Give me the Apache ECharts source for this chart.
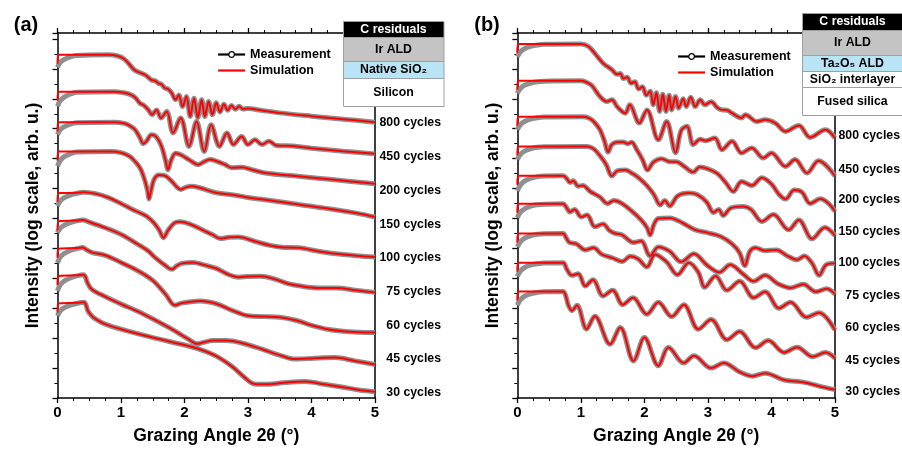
<!DOCTYPE html>
<html><head><meta charset="utf-8">
<script src="https://cdn.jsdelivr.net/npm/echarts@6.0.0/dist/echarts.min.js"></script>
<style>html,body{margin:0;padding:0;background:#fff}#c{width:902px;height:450px}</style>
</head><body><div id="c"></div><script>
// ---- data: x = grazing angle 2θ (deg), y = log intensity (decades, offset per curve) ----
const xTicks = [0,1,2,3,4,5];
const cyclesA = ['800 cycles','450 cycles','200 cycles','150 cycles','100 cycles','75 cycles','60 cycles','45 cycles','30 cycles'];
const cyclesB = ['800 cycles','450 cycles','200 cycles','150 cycles','100 cycles','75 cycles','60 cycles','45 cycles','30 cycles'];
const layersA = ['C residuals','Ir ALD','Native SiO\u2082','Silicon'];
const layersB = ['C residuals','Ir ALD','Ta\u2082O\u2085 ALD','SiO\u2082 interlayer','Fused silica'];

const simA800 = [[0,11.17],[0.015,11.47],[0.8,11.47],[0.95,11.43],[1.05,11.33],[1.12,11.18],[1.22,10.95],[1.38,10.8],[1.48,10.63],[1.54,10.6],[1.59,10.52],[1.64,10.48],[1.69,10.36],[1.74,10.33],[1.80,10.19],[1.86,9.97],[1.91,10.13],[1.97,9.74],[2.03,10.08],[2.09,9.41],[2.15,10.02],[2.21,9.37],[2.27,9.97],[2.32,9.41],[2.38,9.91],[2.44,9.47],[2.50,9.87],[2.56,9.56],[2.62,9.82],[2.68,9.62],[2.74,9.78],[2.80,9.65],[2.86,9.75],[2.92,9.66],[3.0,9.68],[3.2,9.62],[3.5,9.53],[4.0,9.42],[4.5,9.32],[5.0,9.22]];
const simA450 = [[0,9.94],[0.015,10.24],[0.9,10.24],[1.05,10.2],[1.14,10.15],[1.22,10.05],[1.30,9.85],[1.36,9.78],[1.43,9.63],[1.49,9.47],[1.56,9.63],[1.63,9.36],[1.72,9.58],[1.82,8.86],[1.94,9.36],[2.07,8.41],[2.19,9.24],[2.31,8.24],[2.42,9.13],[2.55,8.41],[2.67,8.86],[2.77,8.47],[2.90,8.74],[3.0,8.47],[3.11,8.63],[3.22,8.47],[3.33,8.58],[3.45,8.44],[3.7,8.42],[4.0,8.35],[4.5,8.25],[5.0,8.16]];
const simA200 = [[0,8.92],[0.015,9.22],[0.9,9.22],[1.05,9.18],[1.12,9.12],[1.22,8.97],[1.30,8.69],[1.35,8.5],[1.40,8.58],[1.48,8.8],[1.56,8.72],[1.64,8.4],[1.70,7.95],[1.74,7.63],[1.79,7.95],[1.86,8.18],[1.95,8.12],[2.08,7.95],[2.22,7.8],[2.31,7.9],[2.40,7.97],[2.5,7.92],[2.64,7.8],[2.74,7.7],[2.9,7.71],[3.06,7.63],[3.27,7.52],[3.79,7.41],[4.32,7.3],[5.0,7.16]];
const simA150 = [[0,7.94],[0.015,8.24],[0.85,8.24],[1.0,8.2],[1.1,8.12],[1.17,8.02],[1.30,7.69],[1.38,7.24],[1.42,6.9],[1.44,6.65],[1.47,6.9],[1.52,7.3],[1.6,7.45],[1.68,7.44],[1.8,7.24],[1.88,7.05],[1.94,6.97],[2.02,7.04],[2.11,7.08],[2.25,7.02],[2.5,6.86],[2.8,6.78],[3.0,6.7],[3.3,6.62],[3.8,6.47],[4.3,6.32],[4.7,6.18],[5.0,6.05]];
const simA100 = [[0,6.55],[0.015,6.85],[0.3,6.86],[0.41,6.88],[0.6,6.83],[0.8,6.7],[1.0,6.5],[1.2,6.28],[1.4,6.08],[1.52,5.85],[1.6,5.62],[1.67,5.36],[1.74,5.6],[1.84,5.85],[1.93,5.89],[2.1,5.8],[2.3,5.6],[2.45,5.45],[2.56,5.33],[2.7,5.37],[2.85,5.38],[3.1,5.24],[3.35,5.1],[3.53,5.04],[3.8,5.02],[4.15,4.89],[4.5,4.8],[5.0,4.71]];
const simA75 = [[0,5.61],[0.015,5.91],[0.3,5.93],[0.4,5.95],[0.49,5.89],[0.75,5.69],[1.01,5.46],[1.27,5.13],[1.43,4.91],[1.54,4.69],[1.69,4.44],[1.80,4.3],[1.88,4.42],[1.96,4.5],[2.14,4.53],[2.3,4.45],[2.5,4.33],[2.7,4.12],[2.85,4.04],[3.0,4.06],[3.2,4.07],[3.43,3.97],[3.63,3.82],[3.8,3.75],[4.1,3.68],[4.4,3.68],[4.7,3.6],[5.0,3.53]];
const simA60 = [[0,4.69],[0.015,4.99],[0.3,5.01],[0.4,5.03],[0.46,4.95],[0.55,4.86],[0.75,4.77],[1.0,4.53],[1.25,4.27],[1.5,3.93],[1.7,3.47],[1.85,3.1],[1.95,3.17],[2.1,3.22],[2.25,3.24],[2.5,3.15],[2.75,2.93],[3.0,2.75],[3.25,2.72],[3.5,2.7],[3.75,2.6],[4.0,2.43],[4.25,2.3],[4.5,2.23],[4.75,2.2],[5.0,2.19]];
const simA45 = [[0,3.78],[0.015,4.08],[0.3,4.1],[0.41,4.12],[0.44,4.05],[0.47,3.86],[0.54,3.63],[0.75,3.39],[1.01,3.13],[1.27,2.89],[1.54,2.6],[1.80,2.3],[2.06,1.97],[2.2,1.81],[2.3,1.86],[2.45,1.92],[2.65,1.92],[2.9,1.84],[3.22,1.63],[3.53,1.41],[3.74,1.3],[4.05,1.33],[4.37,1.35],[4.68,1.24],[5.0,1.12]];
const simA30 = [[0,2.86],[0.015,3.16],[0.3,3.18],[0.42,3.2],[0.45,3.1],[0.48,2.91],[0.55,2.72],[0.61,2.63],[0.75,2.47],[1.0,2.3],[1.5,2.02],[2.0,1.77],[2.25,1.62],[2.5,1.4],[2.75,1.05],[2.95,0.68],[3.1,0.47],[3.3,0.46],[3.6,0.52],[3.9,0.55],[4.2,0.46],[4.5,0.36],[4.75,0.27],[5.0,0.21]];

const measLowA800 = [[0,11.05],[0.04,11.21],[0.1,11.31],[0.2,11.4],[0.3,11.45]];
const measLowA450 = [[0,9.75],[0.04,9.93],[0.1,10.05],[0.2,10.16],[0.3,10.22]];
const measLowA200 = [[0,8.8],[0.04,8.96],[0.1,9.06],[0.2,9.15],[0.3,9.2]];
const measLowA150 = [[0,7.75],[0.04,7.93],[0.1,8.06],[0.2,8.16],[0.3,8.22]];
const measLowA100 = [[0,6.42],[0.04,6.58],[0.1,6.69],[0.2,6.78],[0.3,6.84]];
const measLowA75 = [[0,5.52],[0.04,5.67],[0.1,5.77],[0.2,5.86],[0.3,5.92]];
const measLowA60 = [[0,4.52],[0.04,4.7],[0.1,4.82],[0.2,4.93],[0.3,4.99]];
const measLowA45 = [[0,3.58],[0.04,3.77],[0.1,3.9],[0.2,4.01],[0.3,4.08]];
const measLowA30 = [[0,2.74],[0.04,2.9],[0.1,3.01],[0.2,3.1],[0.3,3.16]];

const simB800 = [[0,11.53],[0.015,11.83],[1.0,11.83],[1.12,11.75],[1.22,11.52],[1.35,11.19],[1.49,10.97],[1.57,10.82],[1.62,10.85],[1.67,10.68],[1.73,10.72],[1.79,10.52],[1.85,10.57],[1.91,10.33],[1.97,10.4],[2.03,10.12],[2.09,10.25],[2.14,9.8],[2.19,10.2],[2.24,9.58],[2.29,10.15],[2.34,9.58],[2.39,10.12],[2.43,9.63],[2.49,10.08],[2.54,9.69],[2.61,10.0],[2.66,9.74],[2.73,10.05],[2.80,9.74],[2.88,9.97],[2.95,9.8],[3.05,9.9],[3.15,9.7],[3.22,9.63],[3.3,9.62],[3.38,9.52],[3.53,9.36],[3.59,9.47],[3.77,9.24],[3.90,9.3],[4.06,9.19],[4.22,8.91],[4.43,9.11],[4.61,8.71],[4.85,8.97],[5.0,8.69]];
const simB450 = [[0,10.3],[0.015,10.6],[1.0,10.6],[1.07,10.57],[1.17,10.45],[1.30,10.08],[1.41,9.91],[1.49,9.97],[1.57,9.74],[1.70,9.52],[1.77,9.8],[1.92,9.19],[2.04,9.63],[2.22,8.63],[2.35,9.24],[2.49,8.2],[2.58,8.95],[2.67,9.08],[2.77,8.47],[2.88,8.65],[2.96,8.6],[3.11,8.69],[3.22,8.3],[3.38,8.58],[3.53,8.19],[3.69,8.36],[3.87,8.02],[4.0,8.19],[4.22,7.74],[4.37,7.97],[4.56,7.52],[4.74,7.93],[5.0,7.42]];
const simB200 = [[0,9.1],[0.015,9.4],[1.05,9.4],[1.15,9.33],[1.22,9.2],[1.30,8.97],[1.37,8.6],[1.43,8.22],[1.48,8.45],[1.56,8.55],[1.66,8.56],[1.74,8.5],[1.80,8.55],[1.88,8.3],[1.97,7.97],[2.05,7.62],[2.14,7.88],[2.27,8.0],[2.4,7.9],[2.5,7.9],[2.62,7.75],[2.77,7.55],[2.87,7.72],[3.0,7.66],[3.15,7.5],[3.28,7.2],[3.40,6.9],[3.53,7.24],[3.69,7.1],[3.85,7.36],[4.0,7.15],[4.12,6.8],[4.22,6.65],[4.36,6.95],[4.48,6.88],[4.61,6.5],[4.77,6.66],[4.9,6.5],[5.0,6.24]];
const simB150 = [[0,8.11],[0.015,8.41],[1.1,8.41],[1.2,8.33],[1.3,8.1],[1.4,7.8],[1.49,7.42],[1.58,7.6],[1.7,7.62],[1.8,7.52],[1.9,7.38],[2.04,7.1],[2.15,6.8],[2.25,6.45],[2.32,6.6],[2.40,6.42],[2.52,6.75],[2.7,6.85],[2.83,6.8],[2.98,6.55],[3.09,6.2],[3.17,6.3],[3.24,6.1],[3.36,6.35],[3.55,6.4],[3.68,6.3],[3.85,5.9],[4.03,6.13],[4.27,5.62],[4.43,5.95],[4.64,5.32],[4.84,5.7],[5.0,5.43]];
const simB100 = [[0,7.13],[0.015,7.43],[0.72,7.43],[0.78,7.33],[0.83,7.2],[0.88,7.26],[0.96,7.08],[1.03,7.1],[1.15,6.9],[1.3,6.72],[1.42,6.5],[1.52,6.6],[1.65,6.5],[1.8,6.25],[1.95,5.95],[2.04,5.7],[2.09,5.45],[2.15,5.8],[2.22,6.0],[2.4,6.02],[2.6,5.85],[2.8,5.62],[3.0,5.52],[3.2,5.4],[3.38,5.15],[3.5,4.85],[3.58,4.42],[3.66,4.9],[3.75,5.02],[3.9,4.92],[4.08,4.95],[4.25,4.75],[4.4,4.62],[4.52,4.75],[4.64,4.5],[4.75,4.1],[4.86,4.45],[5.0,4.5]];
const simB75 = [[0,6.19],[0.015,6.49],[0.72,6.49],[0.77,6.38],[0.83,6.22],[0.9,6.3],[1.01,6.05],[1.1,6.12],[1.22,5.72],[1.35,5.82],[1.45,5.6],[1.54,5.5],[1.65,5.45],[1.83,5.2],[1.95,5.25],[2.09,4.75],[2.22,5.05],[2.4,4.9],[2.58,4.55],[2.78,4.82],[2.98,4.45],[3.18,4.2],[3.35,4.45],[3.55,4.15],[3.72,3.9],[3.9,4.1],[4.1,3.82],[4.3,3.68],[4.5,3.8],[4.7,3.55],[4.87,3.65],[5.0,3.47]];
const simB60 = [[0,5.2],[0.015,5.5],[0.72,5.5],[0.77,5.35],[0.82,5.2],[0.93,5.15],[1.07,4.95],[1.2,5.02],[1.33,4.8],[1.5,4.68],[1.65,4.56],[1.78,4.74],[1.9,4.65],[2.04,4.38],[2.17,4.8],[2.35,4.55],[2.52,4.12],[2.7,4.52],[2.85,4.2],[2.95,3.7],[3.12,4.08],[3.3,3.6],[3.5,3.9],[3.72,3.35],[3.9,3.55],[4.12,3.0],[4.3,3.2],[4.55,2.7],[4.75,2.85],[5.0,2.27]];
const simB45 = [[0,4.22],[0.015,4.52],[0.72,4.52],[0.78,4.3],[0.86,4.1],[0.96,4.15],[1.07,3.74],[1.19,3.95],[1.35,3.41],[1.5,3.6],[1.66,3.12],[1.82,3.35],[2.04,2.8],[2.22,3.2],[2.43,2.72],[2.62,3.12],[2.85,2.3],[3.05,2.62],[3.3,1.95],[3.5,2.22],[3.75,1.68],[3.95,1.92],[4.2,1.52],[4.4,1.7],[4.65,1.38],[4.85,1.52],[5.0,1.33]];
const simB30 = [[0,3.26],[0.015,3.56],[0.72,3.56],[0.76,3.43],[0.8,3.12],[0.86,2.92],[0.94,3.1],[1.09,2.3],[1.22,2.73],[1.46,1.8],[1.62,2.36],[1.83,1.24],[2.0,2.02],[2.22,1.08],[2.38,1.69],[2.62,1.17],[2.78,1.41],[3.05,1.0],[3.25,1.17],[3.5,0.87],[3.7,0.73],[3.9,0.83],[4.2,0.6],[4.5,0.53],[4.8,0.37],[5.0,0.28]];

const measLowB800 = [[0,11.4],[0.05,11.57],[0.12,11.68],[0.22,11.76],[0.32,11.8],[0.42,11.82]];
const measLowB450 = [[0,10.18],[0.05,10.35],[0.12,10.46],[0.22,10.53],[0.32,10.57],[0.42,10.59]];
const measLowB200 = [[0,8.97],[0.05,9.14],[0.12,9.25],[0.22,9.33],[0.32,9.37],[0.42,9.39]];
const measLowB150 = [[0,7.97],[0.05,8.14],[0.12,8.26],[0.22,8.34],[0.32,8.38],[0.42,8.4]];
const measLowB100 = [[0,6.92],[0.05,7.12],[0.12,7.26],[0.22,7.35],[0.32,7.4],[0.42,7.42]];
const measLowB75 = [[0,6.03],[0.05,6.21],[0.12,6.33],[0.22,6.42],[0.32,6.46],[0.42,6.48]];
const measLowB60 = [[0,5.05],[0.05,5.23],[0.12,5.35],[0.22,5.43],[0.32,5.47],[0.42,5.49]];
const measLowB45 = [[0,4.07],[0.05,4.25],[0.12,4.37],[0.22,4.45],[0.32,4.49],[0.42,4.51]];
const measLowB30 = [[0,3.1],[0.05,3.29],[0.12,3.41],[0.22,3.49],[0.32,3.53],[0.42,3.55]];

// ---- layout / style ----
const FF = "'Liberation Sans', Arial, sans-serif";
const labelYA = [123,157,191,225,258,292,326,359,393];
const labelYB = [136,170,200,232,263,296,328,361,392];

const simsA = [simA800,simA450,simA200,simA150,simA100,simA75,simA60,simA45,simA30];
const lowsA = [measLowA800,measLowA450,measLowA200,measLowA150,measLowA100,measLowA75,measLowA60,measLowA45,measLowA30];
const simsB = [simB800,simB450,simB200,simB150,simB100,simB75,simB60,simB45,simB30];
const lowsB = [measLowB800,measLowB450,measLowB200,measLowB150,measLowB100,measLowB75,measLowB60,measLowB45,measLowB30];

function mkSeries(sims, lows, ax, cut) {
  const out = [];
  sims.forEach((s, i) => {
    out.push({type:'line', name:'Measurement', xAxisIndex:ax, yAxisIndex:ax,
      data: lows[i].concat(s.filter(p => p[0] > cut)), symbol:'circle', symbolSize:6, showSymbol:false,
      smooth:0.35, lineStyle:{color:'#8f8f8f', width:5}, itemStyle:{color:'#8f8f8f'}, z:2, silent:true});
    out.push({type:'line', name:'Simulation', xAxisIndex:ax, yAxisIndex:ax,
      data: s, symbol:'none', smooth:0.35, lineStyle:{color:'#ff0000', width:2}, itemStyle:{color:'#ff0000'}, z:3, silent:true});
  });
  return out;
}

function xAx(grid, pos) {
  const top = pos === 'top';
  return {type:'value', gridIndex:grid, position:pos, min:0, max:5, interval:1,
    axisLine:{show:true, onZero:false, lineStyle:{color:'#000', width:1.5}},
    axisTick:{show:true, inside:false, length:5, lineStyle:{color:'#000', width:1.3}},
    minorTick:{show:true, splitNumber:4, length:3, lineStyle:{color:'#000', width:1}},
    splitLine:{show:false}, minorSplitLine:{show:false},
    axisLabel:{show:!top, color:'#000', fontWeight:'bold', fontSize:15, fontFamily:FF, margin:7},
    name: top ? '' : 'Grazing Angle 2\u03b8 (\u00b0)', nameLocation:'middle', nameGap:29,
    nameTextStyle:{color:'#000', fontWeight:'bold', fontSize:17.5, fontFamily:FF}};
}
function yAx(grid, pos) {
  const right = pos === 'right';
  return {type:'value', gridIndex:grid, position:pos, min:0, max:12.2, interval:1,
    axisLine:{show:true, onZero:false, lineStyle:{color:'#000', width:1.5}},
    axisTick:{show:!right, inside:false, length:5, lineStyle:{color:'#000', width:1.3}},
    minorTick:{show:!right, splitNumber:2, length:3, lineStyle:{color:'#000', width:1}},
    splitLine:{show:false}, minorSplitLine:{show:false},
    axisLabel:{show:false},
    name: right ? '' : 'Intensity (log scale, arb. u.)', nameLocation:'middle', nameGap:15, nameRotate:90,
    nameTextStyle:{color:'#000', fontWeight:'bold', fontSize:17.5, fontFamily:FF}};
}

function txt(x, y, t, size, align, color) {
  return {type:'text', z:20, style:{x:x, y:y, text:t, fill:color||'#000',
    font:'bold ' + size + 'px ' + FF, align:align||'center', verticalAlign:'middle',
    textAlign:align||'center', textVerticalAlign:'middle'}};
}
function rect(x, y, w, h, fill, stroke) {
  return {type:'rect', z:15, shape:{x:x, y:y, width:w, height:h},
    style:{fill:fill, stroke:stroke||'#a0a0a0', lineWidth:1}};
}

const graphics = [];
graphics.push(txt(26, 25, '(a)', 20));
graphics.push(txt(487, 25, '(b)', 20));
cyclesA.forEach((c, i) => graphics.push(txt(441, labelYA[i], c, 12.3, 'right')));
cyclesB.forEach((c, i) => graphics.push(txt(900, labelYB[i], c, 12.3, 'right')));
// layer stack (a)
const boxA = [[21,16,'#000','#fff'],[37,24,'#c4c4c4','#000'],[61,17,'#b8e4f5','#000'],[78,28,'#ffffff','#000']];
boxA.forEach((r, i) => {
  graphics.push(rect(343.5, r[0]+0.5, 100.5, r[1], r[2]));
  graphics.push(txt(393.5, r[0] + r[1]/2 + 0.5, layersA[i], 12.3, 'center', r[3]));
});
// layer stack (b)
const boxB = [[13,17,'#000','#fff'],[30,25,'#c4c4c4','#000'],[55,16,'#b8e4f5','#000'],[71,16,'#ffffff','#000'],[87,28,'#ffffff','#000']];
boxB.forEach((r, i) => {
  graphics.push(rect(802.5, r[0]+0.5, 102, r[1], r[2]));
  graphics.push(txt(852.5, r[0] + r[1]/2 + 0.5, layersB[i], 12.3, 'center', r[3]));
});

function legendAt(left, top) {
  return {left:left, top:top, padding:0, orient:'vertical', itemWidth:27, itemHeight:7, itemGap:3,
    textStyle:{color:'#000', fontWeight:'bold', fontSize:12.5, fontFamily:FF}, selectedMode:false,
    data:[
      {name:'Measurement', itemStyle:{color:'#fff', borderColor:'#000', borderWidth:1.2}, lineStyle:{color:'#000', width:2.2}},
      {name:'Simulation', itemStyle:{color:'rgba(0,0,0,0)', borderWidth:0, opacity:0}, lineStyle:{color:'#ff0000', width:2.2}}
    ]};
}

const option = {
  animation:false,
  backgroundColor:'#fff',
  grid:[
    {left:57.5, top:33, width:317.5, height:366},
    {left:517.3, top:33, width:317.7, height:366}
  ],
  xAxis:[xAx(0,'bottom'), xAx(0,'top'), xAx(1,'bottom'), xAx(1,'top')],
  yAxis:[yAx(0,'left'), yAx(0,'right'), yAx(1,'left'), yAx(1,'right')],
  legend:[legendAt(217, 48), legendAt(677, 50)],
  series: mkSeries(simsA, lowsA, 0, 0.32).concat(mkSeries(simsB, lowsB, 2, 0.45)),
  graphic: graphics
};
const chart = echarts.init(document.getElementById('c'), null, {renderer:'canvas'});
chart.setOption(option);
</script></body></html>
